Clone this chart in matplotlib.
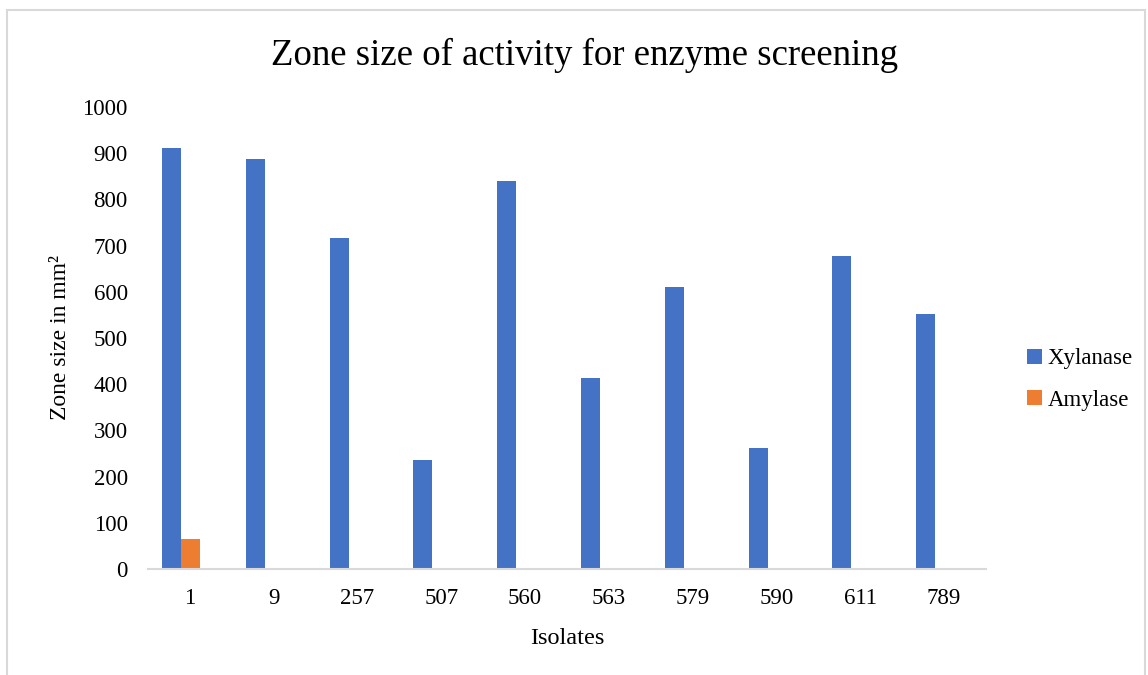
import numpy as np
from matplotlib import pyplot as plt
from matplotlib.patches import Rectangle

isolates = ['1', '9', '257', '507', '560', '563', '579', '590', '611', '789']
xylanase = [912, 888, 716, 237, 840, 414, 610, 262, 677, 551]
amylase  = [66, 0, 0, 0, 0, 0, 0, 0, 0, 0]

blue   = '#4472C4'
orange = '#ED7D31'

plt.rcParams['font.family'] = ['Liberation Serif', 'DejaVu Serif']

fig = plt.figure(figsize=(11.48, 6.75), dpi=100)
ax  = fig.add_axes([148/1148, 1 - 569/675, (986 - 148)/1148, (569 - 107)/675])

# light frame round the chart area
fig.patches.append(Rectangle((7/1148, -0.05), (1145 - 7)/1148, 1.05 - 10/675,
                             transform=fig.transFigure, fill=False,
                             edgecolor='#d9d9d9', linewidth=1.5))

x = np.arange(len(isolates))
w = 0.226
shift = -0.107   # bar groups sit a little left of the category centre
ax.bar(x + shift - w/2, xylanase, w, color=blue,   label='Xylanase')
ax.bar(x + shift + w/2, amylase,  w, color=orange, label='Amylase')

ax.set_xlim(-0.5, len(isolates) - 0.5)
ax.set_ylim(0, 1000)
ax.set_yticks(np.arange(0, 1001, 100))
ax.set_xticks(x)
ax.set_xticklabels(isolates)
ax.tick_params(axis='both', length=0, labelsize=16.5, colors='#000000')
ax.tick_params(axis='y', pad=14.5)
ax.tick_params(axis='x', pad=14)

for s in ['top', 'right', 'left']:
	ax.spines[s].set_visible(False)
ax.spines['bottom'].set_color('#d9d9d9')
ax.spines['bottom'].set_linewidth(1.5)

ax.set_ylabel('Zone size in mm²', fontsize=17, labelpad=8)
ax.set_xlabel('Isolates', fontsize=17.5, labelpad=13)
fig.text(585/1148, 1 - 55/675, 'Zone size of activity for enzyme screening',
         fontsize=26.5, ha='center', va='center')

ax.legend(loc='center left', bbox_to_anchor=(1.024, 0.41), frameon=False,
          fontsize=16.5, handlelength=0.65, handleheight=0.65, handletextpad=0.25,
          labelspacing=0.9)

plt.savefig('out.png', dpi=100)
